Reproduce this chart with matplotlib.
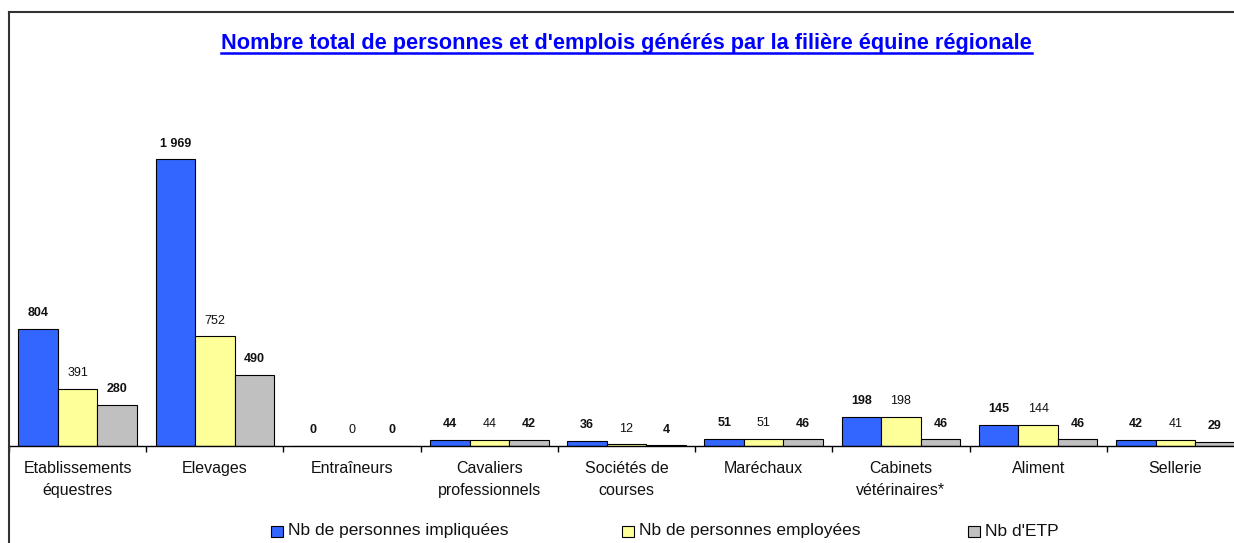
import numpy as np
import matplotlib.pyplot as plt
from matplotlib.patches import Rectangle
from matplotlib.lines import Line2D

plt.rcParams['font.family'] = ['Liberation Sans', 'DejaVu Sans']

# Data
categories = ['Etablissements\néquestres', 'Elevages', 'Entraîneurs',
              'Cavaliers\nprofessionnels', 'Sociétés de\ncourses', 'Maréchaux',
              'Cabinets\nvétérinaires*', 'Aliment', 'Sellerie']
impliquees = [804, 1969, 0, 44, 36, 51, 198, 145, 42]
employees = [391, 752, 0, 44, 12, 51, 198, 144, 41]
etp = [280, 490, 0, 42, 4, 46, 46, 46, 29]
series_names = ['Nb de personnes impliquées', 'Nb de personnes employées', "Nb d'ETP"]
colors = ['#3366FF', '#FFFF99', '#C0C0C0']
bold_labels = [True, False, True]

W, H = 1234, 543
fig = plt.figure(figsize=(W / 100, H / 100), dpi=100)

# plot area in pixels: left 9, baseline 446, top 12, right ~1244
ax = fig.add_axes([9 / W, (H - 446) / H, 1235 / W, (446 - 12) / H])
ax.set_xlim(-0.5, len(categories) - 0.5)
ax.set_ylim(0, 2980)

x = np.arange(len(categories))
bw = 0.288
for i, (vals, c) in enumerate(zip([impliquees, employees, etp], colors)):
    bars = ax.bar(x + (i - 1) * bw, vals, bw, color=c, edgecolor='black', linewidth=0.8)
    for b, v in zip(bars, vals):
        lab = f'{v:,}'.replace(',', ' ')
        ax.annotate(lab, (b.get_x() + b.get_width() / 2, v), xytext=(0, 7),
                    textcoords='offset points', ha='center', va='bottom',
                    fontsize=9, color='#111111',
                    fontweight='bold' if bold_labels[i] else 'normal')

for s in ['top', 'right', 'left']:
    ax.spines[s].set_visible(False)
ax.spines['bottom'].set_linewidth(1.0)
ax.set_yticks([])
ax.set_xticks(x)
ax.set_xticklabels(categories, fontsize=11.5, color='#111111', linespacing=1.55)
ax.tick_params(axis='x', which='major', length=0, pad=11)
ax.set_xticks(np.arange(len(categories) + 1) - 0.5, minor=True)
ax.tick_params(axis='x', which='minor', length=4, width=1)

# chart border (top and left)
fig.add_artist(Line2D([9 / W, 1.0], [1 - 12 / H, 1 - 12 / H], color='#333333', lw=1.5))
fig.add_artist(Line2D([9 / W, 9 / W], [0, 1 - 12 / H], color='#333333', lw=1.5))

# title with underline
title = fig.text(626.5 / W, 1 - 43 / H, "Nombre total de personnes et d'emplois générés par la filière équine régionale",
                 ha='center', va='center', fontsize=15.7, fontweight='bold', color='#0000FF')
fig.canvas.draw()
bb = title.get_window_extent()
fig.add_artist(Line2D([bb.x0 / W, bb.x1 / W], [(H - 53) / H, (H - 53) / H], color='#0000FF', lw=1.8))

# legend
leg_x = [271, 622, 968]
for lx, name, c in zip(leg_x, series_names, colors):
    fig.add_artist(Rectangle((lx / W, (H - 537) / H), 12 / W, 11 / H, facecolor=c,
                             edgecolor='black', linewidth=0.8))
    fig.text((lx + 17) / W, (H - 531) / H, name, ha='left', va='center', fontsize=12.5, color='#111111')

fig.savefig('out.png', dpi=100)
